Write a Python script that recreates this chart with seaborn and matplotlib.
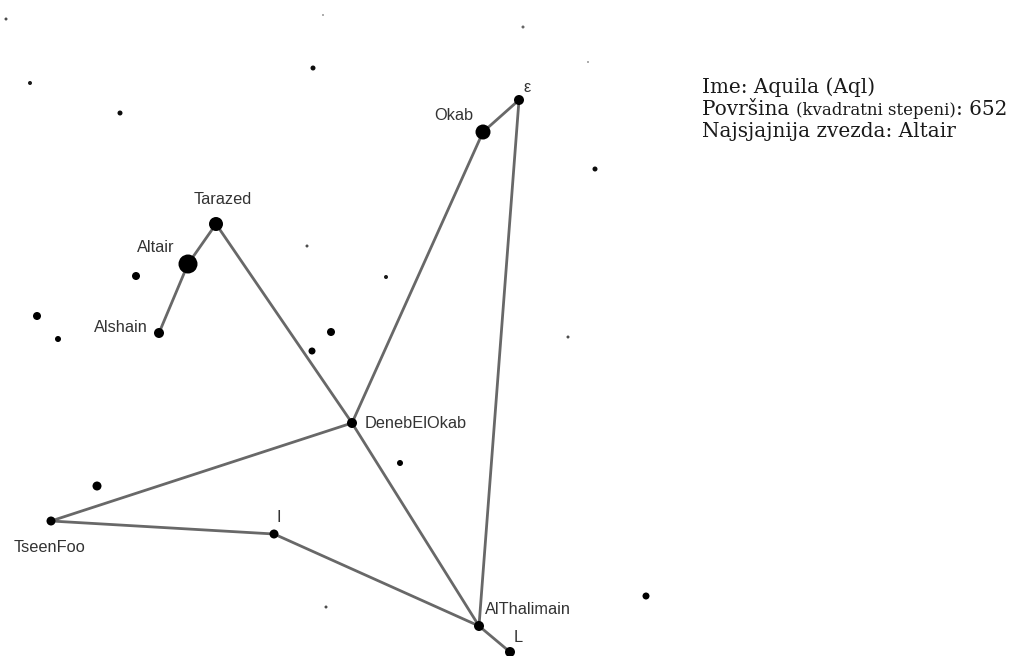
import matplotlib
matplotlib.use("Agg")
import matplotlib.pyplot as plt
import seaborn as sns
import pandas as pd

# ---- named constellation stars (pixel-space chart coordinates, y downward) ----
star_names = ["ε", "Okab", "Tarazed", "Altair", "Alshain", "DenebElOkab",
              "TseenFoo", "I", "AlThalimain", "L"]
star_x = [519, 483, 216, 188, 159, 352, 51, 274, 479, 510]
star_y = [100, 132, 224, 264, 333, 423, 521, 534, 626, 652]
star_diam = [10, 15, 14, 19, 10, 10, 9, 9, 10, 10]

# ---- constellation lines ----
edge_from = ["ε", "Okab", "ε", "Tarazed", "Altair", "Tarazed",
             "DenebElOkab", "DenebElOkab", "TseenFoo", "I", "AlThalimain"]
edge_to = ["Okab", "DenebElOkab", "AlThalimain", "Altair", "Alshain",
           "DenebElOkab", "AlThalimain", "TseenFoo", "I", "AlThalimain", "L"]

# ---- background stars ----
bg_x = [6, 30, 120, 313, 323, 523, 588, 595, 568, 646, 136, 37, 58, 307,
        386, 331, 312, 400, 97, 326]
bg_y = [19, 83, 113, 68, 15, 27, 62, 169, 337, 596, 276, 316, 339, 246,
        277, 332, 351, 463, 486, 607]
bg_diam = [3, 4, 5, 5, 2, 3, 2, 5, 3, 7, 8, 8, 6, 3, 4, 8, 7, 6, 9, 3]
bg_gray = [0.3, 0.1, 0.05, 0.05, 0.6, 0.4, 0.6, 0.05, 0.3, 0.0, 0.0, 0.0,
           0.0, 0.3, 0.1, 0.0, 0.0, 0.0, 0.0, 0.3]

# ---- labels ----
label_x = [527, 454, 223, 156, 121, 365, 50, 279, 485, 518]
label_y = [88, 115, 199, 248, 327, 423, 547, 517, 610, 637]
label_ha = ["center", "center", "center", "center", "center", "left",
            "center", "center", "left", "center"]

info_lines = [
    [("Ime: Aquila (Aql)", "big")],
    [("Površina ", "big"), ("(kvadratni stepeni)", "small"), (": 652", "big")],
    [("Najsjajnija zvezda: Altair", "big")],
]

W, H, DPI = 1026, 656, 100
sns.set_theme(style="white")
fig = plt.figure(figsize=(W / DPI, H / DPI), dpi=DPI)
ax = fig.add_axes([0, 0, 1, 1])
ax.set_xlim(0, W)
ax.set_ylim(H, 0)
ax.axis("off")

px2pt = 72.0 / DPI

stars = pd.DataFrame({"name": star_names, "x": star_x, "y": star_y, "d": star_diam})
pos = stars.set_index("name")

for a, b in zip(edge_from, edge_to):
    seg = pd.DataFrame({"x": [pos.loc[a, "x"], pos.loc[b, "x"]],
                        "y": [pos.loc[a, "y"], pos.loc[b, "y"]]})
    sns.lineplot(data=seg, x="x", y="y", ax=ax, color="#686868",
                 linewidth=2.0, sort=False, estimator=None, zorder=1)

bg = pd.DataFrame({"x": bg_x, "y": bg_y, "d": bg_diam, "g": bg_gray})
for g, sub in bg.groupby("g"):
    sns.scatterplot(data=sub, x="x", y="y", ax=ax, s=(sub["d"] * px2pt) ** 2,
                    color=str(g), edgecolor="none", linewidth=0, zorder=2,
                    legend=False)

sns.scatterplot(data=stars, x="x", y="y", ax=ax, s=(stars["d"] * px2pt) ** 2,
                color="black", edgecolor="none", linewidth=0, zorder=3,
                legend=False)

ax.set_xlim(0, W)
ax.set_ylim(H, 0)
ax.set_xlabel("")
ax.set_ylabel("")

for name, lx, ly, ha in zip(star_names, label_x, label_y, label_ha):
    ax.text(lx, ly, name, ha=ha, va="center", fontsize=11.8,
            family=["Liberation Sans", "DejaVu Sans"], color="#333333", zorder=4)

# info block with mixed font sizes
sizes = {"big": 14.4, "small": 12.0}
fig.canvas.draw()
renderer = fig.canvas.get_renderer()
base_x = 702
baselines = [93, 115, 137]
for line, by in zip(info_lines, baselines):
    x = base_x
    for txt, sz in line:
        t = ax.text(x, by, txt, ha="left", va="baseline", fontsize=sizes[sz],
                    family="DejaVu Serif", color="#1a1a1a", zorder=4)
        bb = t.get_window_extent(renderer=renderer)
        x = ax.transData.inverted().transform((bb.x1, bb.y0))[0]

fig.savefig("out.png", dpi=DPI, facecolor="white")
